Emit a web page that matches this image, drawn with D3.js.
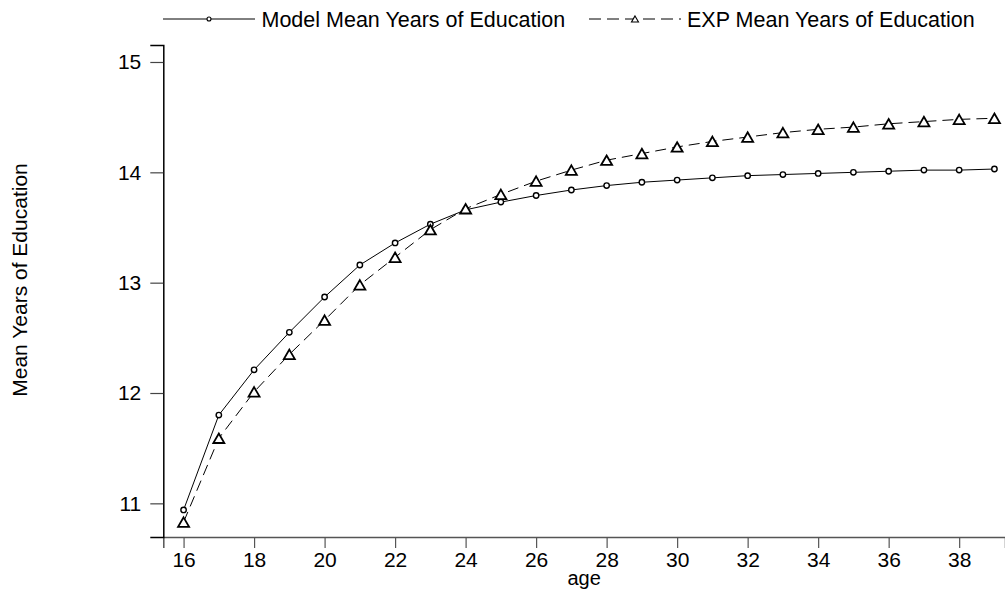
<!DOCTYPE html>
<html>
<head>
<meta charset="utf-8">
<script src="https://cdn.jsdelivr.net/npm/d3@7"></script>
<style>
  html, body { margin: 0; padding: 0; background: #fff; }
  svg { display: block; font-family: "Liberation Sans", Arial, Helvetica, sans-serif; }
</style>
</head>
<body>
<svg id="chart" width="1005" height="592"></svg>
<script>
// Mean years of education by age: model prediction vs. EXP
const ages = [16, 17, 18, 19, 20, 21, 22, 23, 24, 25, 26, 27, 28, 29, 30, 31, 32, 33, 34, 35, 36, 37, 38, 39];
const modelMean = [10.94, 11.80, 12.21, 12.55, 12.87, 13.16, 13.36, 13.53, 13.66, 13.73, 13.79, 13.84,
                   13.88, 13.91, 13.93, 13.95, 13.97, 13.98, 13.99, 14.00, 14.01, 14.02, 14.02, 14.03];
const expMean = [10.83, 11.59, 12.01, 12.35, 12.66, 12.98, 13.23, 13.48, 13.67, 13.80, 13.92, 14.02,
                 14.11, 14.17, 14.23, 14.28, 14.32, 14.36, 14.39, 14.41, 14.44, 14.46, 14.48, 14.49];
const xTicks = [16, 18, 20, 22, 24, 26, 28, 30, 32, 34, 36, 38];
const yTicks = [11, 12, 13, 14, 15];
const seriesNames = ["Model Mean Years of Education", "EXP Mean Years of Education"];
const xTitle = "age";
const yTitle = "Mean Years of Education";

const svg = d3.select("#chart");
const FONT = 21;

const x = d3.scaleLinear().domain([15.425, 39.3]).range([163.3, 1005]);
const y = d3.scaleLinear().domain([10.695, 15.154]).range([537, 45]);

// Axes
const xAxis = svg.append("g")
  .attr("transform", `translate(0,${y.range()[0]})`)
  .call(d3.axisBottom(x).tickValues(xTicks).tickSize(11).tickPadding(4).tickFormat(d3.format("d")));
xAxis.select(".domain").attr("stroke", "#555").attr("stroke-width", 1.5);
xAxis.selectAll(".tick line").attr("stroke", "#555").attr("stroke-width", 1.2);
xAxis.selectAll("text").attr("font-size", FONT).attr("fill", "#000").attr("font-family", null);

const yAxis = svg.append("g")
  .attr("transform", `translate(${x.range()[0]},0)`)
  .call(d3.axisLeft(y).tickValues(yTicks).tickSize(13).tickPadding(9).tickFormat(d3.format("d")));
yAxis.select(".domain").attr("stroke", "#000").attr("stroke-width", 1.5);
yAxis.selectAll(".tick line").attr("stroke", "#444").attr("stroke-width", 1.2);
yAxis.selectAll("text").attr("font-size", FONT).attr("fill", "#000").attr("font-family", null);

// Axis titles
svg.append("text")
  .attr("x", (x.range()[0] + x.range()[1]) / 2)
  .attr("y", 585)
  .attr("text-anchor", "middle")
  .attr("font-size", FONT - 1)
  .text(xTitle);

svg.append("text")
  .attr("transform", `translate(27,280) rotate(-90)`)
  .attr("text-anchor", "middle")
  .attr("font-size", FONT)
  .text(yTitle);

// Series lines
const line = (vals) => d3.line()
  .x((d, i) => x(ages[i]))
  .y(d => y(d))(vals);

svg.append("path")
  .attr("d", line(modelMean))
  .attr("fill", "none")
  .attr("stroke", "#000")
  .attr("stroke-width", 1);

svg.append("path")
  .attr("d", line(expMean))
  .attr("fill", "none")
  .attr("stroke", "#000")
  .attr("stroke-width", 1)
  .attr("stroke-dasharray", "11,6");

// Markers
const triPath = (cx, cy, s) => {
  const h = s * Math.sqrt(3) / 2;
  return `M${cx},${cy - h / 2}L${cx + s / 2},${cy + h / 2}L${cx - s / 2},${cy + h / 2}Z`;
};

svg.append("g").selectAll("circle")
  .data(modelMean)
  .join("circle")
  .attr("cx", (d, i) => x(ages[i]))
  .attr("cy", d => y(d))
  .attr("r", 2.7)
  .attr("fill", "#fff")
  .attr("stroke", "#000")
  .attr("stroke-width", 1.4);

svg.append("g").selectAll("path")
  .data(expMean)
  .join("path")
  .attr("d", (d, i) => triPath(x(ages[i]), y(d), 11))
  .attr("fill", "#fff")
  .attr("stroke", "#000")
  .attr("stroke-width", 1.8)
  .attr("stroke-linejoin", "miter");

// Legend
const legY = 19;
const leg = svg.append("g");
leg.append("line").attr("x1", 163).attr("x2", 255).attr("y1", legY).attr("y2", legY)
  .attr("stroke", "#000").attr("stroke-width", 1);
leg.append("circle").attr("cx", 209).attr("cy", legY).attr("r", 2)
  .attr("fill", "#fff").attr("stroke", "#000").attr("stroke-width", 1.1);
leg.append("text").attr("x", 261.5).attr("y", 26.7).attr("font-size", 21.5).text(seriesNames[0]);

leg.append("line").attr("x1", 589).attr("x2", 681).attr("y1", legY).attr("y2", legY)
  .attr("stroke", "#000").attr("stroke-width", 1).attr("stroke-dasharray", "12,6");
leg.append("path").attr("d", triPath(635, legY, 7))
  .attr("fill", "#fff").attr("stroke", "#000").attr("stroke-width", 1.1);
leg.append("text").attr("x", 687).attr("y", 26.7).attr("font-size", 21.5).text(seriesNames[1]);
</script>
</body>
</html>
